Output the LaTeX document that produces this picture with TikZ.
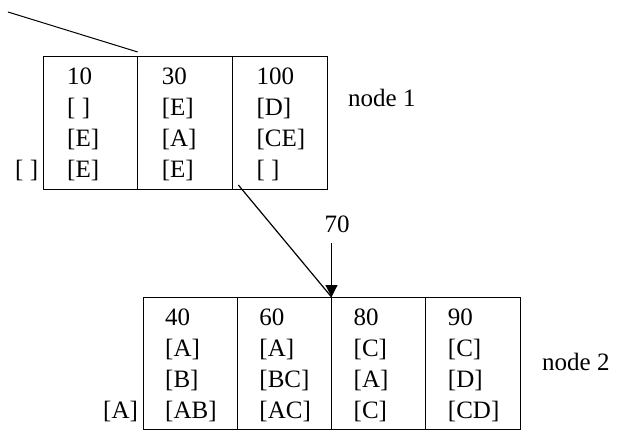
\documentclass[tikz,border=0pt]{standalone}
\usepackage{fontspec}
\setmainfont{Liberation Serif}
\usetikzlibrary{arrows.meta}
\begin{document}
\begin{tikzpicture}[x=1pt,y=-1pt,
  cellbox/.style={draw, line width=1pt, inner sep=0pt, outer sep=0pt, anchor=north west},
  topcell/.style={cellbox, minimum width=94.67pt, minimum height=133pt},
  botcell/.style={cellbox, minimum width=94.25pt, minimum height=132pt},
  txt/.style={font=\fontsize{25}{31}\selectfont, inner sep=0pt, anchor=base west},
  conn/.style={line width=1.2pt},
  head/.style={-{Triangle[width=12pt,length=12pt]}}]
\useasboundingbox (0,0) rectangle (618,430);

% node 1: three key columns
\foreach \i/\a/\b/\c/\d in {1/10/{[ ]}/{[E]}/{[E]},
                             2/30/{[E]}/{[A]}/{[E]},
                             3/100/{[D]}/{[CE]}/{[ ]}}{
  \node[topcell] (n1c\i) at (43+94.67*\i-94.67, 57) {};
  \node[txt] (n1c\i r1) at ([xshift=24pt,yshift=-28pt]n1c\i.north west) {\a};
  \node[txt] (n1c\i r2) at ([xshift=24pt,yshift=-59pt]n1c\i.north west) {\b};
  \node[txt] (n1c\i r3) at ([xshift=24pt,yshift=-90pt]n1c\i.north west) {\c};
  \node[txt] (n1c\i r4) at ([xshift=24pt,yshift=-121pt]n1c\i.north west) {\d};
}
\node[txt] (n1left) at (15,178) {[ ]};
\node[txt] (n1name) at (348,107) {node 1};

% node 2: four key columns
\foreach \i/\a/\b/\c/\d in {1/40/{[A]}/{[B]}/{[AB]},
                             2/60/{[A]}/{[BC]}/{[AC]},
                             3/80/{[C]}/{[A]}/{[C]},
                             4/90/{[C]}/{[D]}/{[CD]}}{
  \node[botcell] (n2c\i) at (143+94.25*\i-94.25, 297) {};
  \node[txt] (n2c\i r1) at ([xshift=22pt,yshift=-28pt]n2c\i.north west) {\a};
  \node[txt] (n2c\i r2) at ([xshift=22pt,yshift=-59pt]n2c\i.north west) {\b};
  \node[txt] (n2c\i r3) at ([xshift=22pt,yshift=-90pt]n2c\i.north west) {\c};
  \node[txt] (n2c\i r4) at ([xshift=22pt,yshift=-121pt]n2c\i.north west) {\d};
}
\node[txt] (n2left) at (103,418) {[A]};
\node[txt] (n2name) at (542,370) {node 2};

% incoming pointer to node 1
\coordinate (lead) at (8,12);
\coordinate (leadend) at ([yshift=5pt]n1c1.north east);
\draw[line width=1pt] (lead) -- (leadend);

% pointer from node 1 down to node 2, and the search key 70
\coordinate (ptr) at ([xshift=6pt,yshift=5pt]n1c3.south west);
\draw[conn] (ptr) -- (n2c2.north east);
\node[font=\fontsize{25}{31}\selectfont, inner sep=0pt, anchor=base] (k70) at (337,233) {70};
\draw[conn, head] ([yshift=-10pt]k70.south -| n2c2.north east) -- (n2c2.north east);
\end{tikzpicture}
\end{document}
